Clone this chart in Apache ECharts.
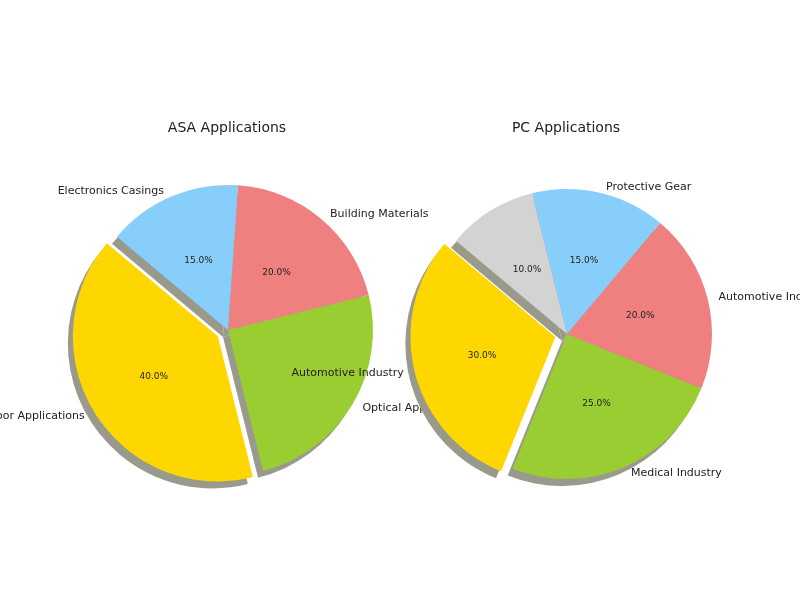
<!DOCTYPE html><html><head><meta charset="utf-8">
<script src="https://cdn.jsdelivr.net/npm/echarts@6/dist/echarts.min.js"></script>
<style>html,body{margin:0;background:#fff}#c{width:800px;height:600px}</style></head><body><div id="c"></div>
<script>
const asaLabels=["Outdoor Applications","Optical Applications","Building Materials","Electronics Casings"];
const asaValues=[40,25,20,15];
const pcLabels=["Automotive Industry","Medical Industry","Automotive Industry","Protective Gear","Electronics"];
const pcValues=[30,25,20,15,10];
const asaColors=["#FFD700","#9ACD32","#F08080","#87CEFA"];
const pcColors=["#FFD700","#9ACD32","#F08080","#87CEFA","#D3D3D3"];
const F="DejaVu Sans";
const R=145;
function mk(labels,values,colors,center,mode){
  const c=mode==='shadow'?[center[0]-5,center[1]+7]:center;
  return {type:'pie',center:c,radius:R,startAngle:140,clockwise:false,
    selectedMode:'single',selectedOffset:12,animation:false,silent:true,
    avoidLabelOverlap:false,
    data:values.map((v,i)=>({value:v,name:'k'+i,selected:i===0,
      itemStyle:{color:mode==='labels'?'rgba(0,0,0,0)':mode==='shadow'?'#9a9a8c':colors[i]}})),
    label:mode==='labels'?{show:true,position:'outside',formatter:p=>labels[p.dataIndex],fontFamily:F,fontSize:11,color:'#222'}:
      mode==='pct'?{show:true,position:'inner',formatter:p=>p.value.toFixed(1)+'%',fontFamily:F,fontSize:9,color:'#222'}:{show:false},
    labelLine:{show:mode==='labels',length:6,length2:0,lineStyle:{color:'rgba(0,0,0,0)'}}};
}
const ch=echarts.init(document.getElementById('c'));
const L=[228,330],P=[567,334];
ch.setOption({backgroundColor:'#fff',
  title:[{text:'ASA Applications',left:222,top:116,textAlign:'center',textStyle:{fontFamily:F,fontSize:14,fontWeight:'normal',color:'#222'}},
         {text:'PC Applications',left:561,top:116,textAlign:'center',textStyle:{fontFamily:F,fontSize:14,fontWeight:'normal',color:'#222'}}],
  series:[mk(asaLabels,asaValues,asaColors,L,'shadow'),mk(pcLabels,pcValues,pcColors,P,'shadow'),
          mk(asaLabels,asaValues,asaColors,L,'pct'),mk(pcLabels,pcValues,pcColors,P,'pct'),
          mk(asaLabels,asaValues,asaColors,L,'labels'),mk(pcLabels,pcValues,pcColors,P,'labels')]});
</script></body></html>
